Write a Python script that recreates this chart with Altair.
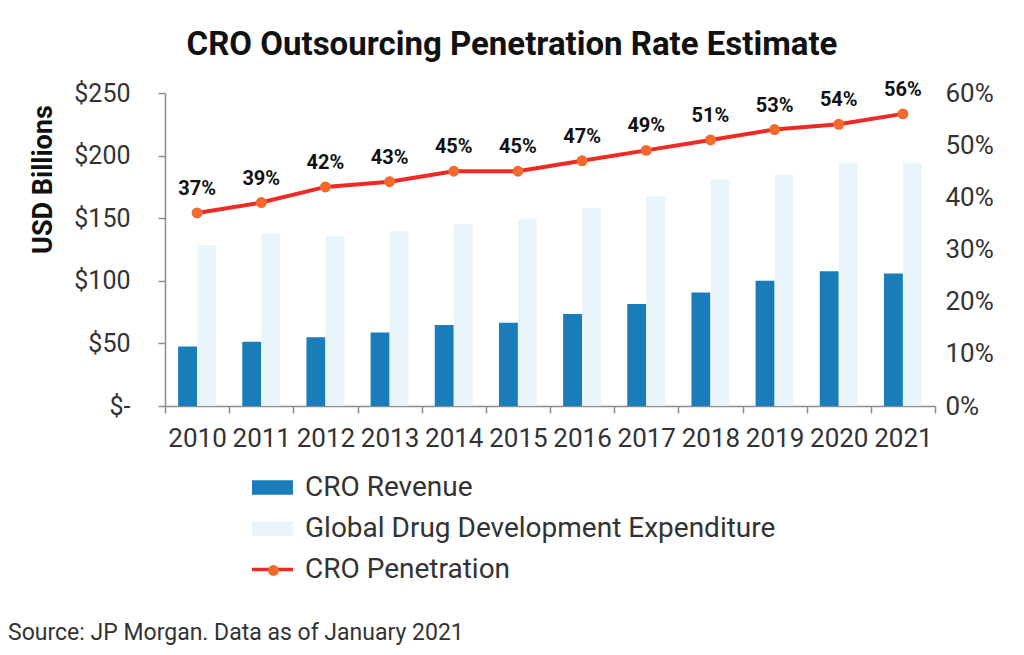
import altair as alt
import pandas as pd

years = [str(y) for y in range(2010, 2022)]
cro_revenue = [47.5, 51.3, 55.0, 58.7, 64.6, 66.4, 73.5, 81.5, 90.7, 100.0, 107.7, 105.8]
global_exp = [128.6, 137.8, 136.0, 139.7, 145.2, 149.5, 158.2, 168.0, 181.2, 184.7, 194.4, 194.4]
penetration = [0.37, 0.39, 0.42, 0.43, 0.45, 0.45, 0.47, 0.49, 0.51, 0.53, 0.54, 0.56]
series_names = ["CRO Revenue", "Global Drug Development Expenditure", "CRO Penetration"]
left_ticks = [0, 50, 100, 150, 200, 250]
right_ticks = [0, 0.1, 0.2, 0.3, 0.4, 0.5, 0.6]
title_text = "CRO Outsourcing Penetration Rate Estimate"
source_text = "Source: JP Morgan. Data as of January 2021"

BLUE = "#1a7db9"
LIGHT = "#eaf5fb"
RED = "#ee2a24"
ORANGE = "#f26a2d"
FONT = "Roboto"
LABEL = "#333333"
AXIS = "#8c8c8c"

bars_df = pd.DataFrame({
    "year": years * 2,
    "series": [series_names[0]] * len(years) + [series_names[1]] * len(years),
    "value": cro_revenue + global_exp,
})
line_df = pd.DataFrame({"year": years, "pen": penetration})

x_enc = alt.X(
    "year:N", sort=years, title=None,
    scale=alt.Scale(paddingInner=0, paddingOuter=0),
    axis=alt.Axis(labelAngle=0, tickBand="extent", labelFontSize=26, labelFont=FONT,
                  labelColor=LABEL, domainColor=AXIS, domainWidth=1.5, tickColor=AXIS,
                  tickWidth=1.5, tickSize=7, labelPadding=12, grid=False),
)

bars = alt.Chart(bars_df).mark_bar().encode(
    x=x_enc,
    xOffset=alt.XOffset("series:N", sort=series_names[:2],
                        scale=alt.Scale(paddingInner=0, paddingOuter=0.69)),
    y=alt.Y("value:Q", title="USD Billions",
            scale=alt.Scale(domain=[0, 250], nice=False),
            axis=alt.Axis(values=left_ticks, labelExpr="datum.value == 0 ? '$-' : '$' + datum.value",
                          labelFontSize=25, labelFont=FONT, labelColor=LABEL, labelPadding=28,
                          tickSize=7, tickColor=AXIS, tickWidth=1.5, domainColor=AXIS, domainWidth=1.5,
                          titleFont=FONT, titleFontSize=27, titleFontWeight="bold", titleColor="#111111",
                          titlePadding=16, titleAlign="center", titleY=86, grid=False)),
    fill=alt.Fill("series:N", scale=alt.Scale(domain=series_names[:2], range=[BLUE, LIGHT]), legend=None),
)

line_base = alt.Chart(line_df).encode(
    x=x_enc,
    y=alt.Y("pen:Q", title=None, scale=alt.Scale(domain=[0, 0.6], nice=False),
            axis=alt.Axis(orient="right", values=right_ticks, format=".0%", labelFontSize=26,
                          labelFont=FONT, labelColor=LABEL, labelPadding=10, ticks=False,
                          domain=False, grid=False)),
)
line = line_base.mark_line(color=RED, strokeWidth=4)
pts = line_base.mark_circle(color=ORANGE, size=120, opacity=1)
lbls = line_base.mark_text(dy=-24, fontSize=20, fontWeight="bold", font=FONT, color="#111111").encode(
    text=alt.Text("pen:Q", format=".0%"))
line_layer = alt.layer(line, pts, lbls)

rect_path = "M-1,-0.35H1V0.35H-1Z"
line_path = "M-1,-0.09H1V0.09H-1Z"
leg = alt.Legend(orient="none", legendX=87, legendY=374, direction="vertical", title=None,
                 symbolSize=1681, labelFontSize=28, labelFont=FONT, labelColor=LABEL,
                 rowPadding=6, labelOffset=12, labelLimit=1000, symbolStrokeWidth=0)
legend_layer = alt.Chart(pd.DataFrame({"series": series_names})).transform_filter("false").mark_point(
    filled=True, opacity=1).encode(
    color=alt.Color("series:N", scale=alt.Scale(domain=series_names, range=[BLUE, LIGHT, RED]), legend=leg),
    shape=alt.Shape("series:N", scale=alt.Scale(domain=series_names, range=[rect_path, rect_path, line_path]),
                    legend=leg),
)

dot_leg = alt.Legend(orient="none", legendX=103, legendY=472, title=None, symbolType="circle",
                     symbolSize=120, symbolFillColor=ORANGE, symbolStrokeColor=ORANGE,
                     symbolStrokeWidth=0, labelFontSize=1, labelOpacity=0, labelOffset=0)
dot_layer = alt.Chart(pd.DataFrame({"dot": ["CRO Penetration"]})).transform_filter("false").mark_point(
    filled=True, opacity=1, color=ORANGE).encode(
    stroke=alt.Stroke("dot:N", scale=alt.Scale(domain=["CRO Penetration"], range=[ORANGE]), legend=dot_leg),
)

source = alt.Chart(pd.DataFrame({"t": [source_text]})).mark_text(
    align="left", baseline="middle", fontSize=23, font=FONT, color=LABEL).encode(
    x=alt.value(-157), y=alt.value(540), text="t:N")

chart = alt.layer(bars, line_layer, legend_layer, dot_layer, source).resolve_scale(y="independent").properties(
    width=770, height=313,
    title=alt.TitleParams(title_text, fontSize=33, font=FONT, fontWeight="bold", color="#111111",
                          anchor="middle", offset=18, dx=-38),
    padding={"left": 0, "top": 20, "right": 5, "bottom": 5},
).configure_view(stroke=None)

chart.save("out.html", embed_options={"renderer": "svg", "actions": False})
